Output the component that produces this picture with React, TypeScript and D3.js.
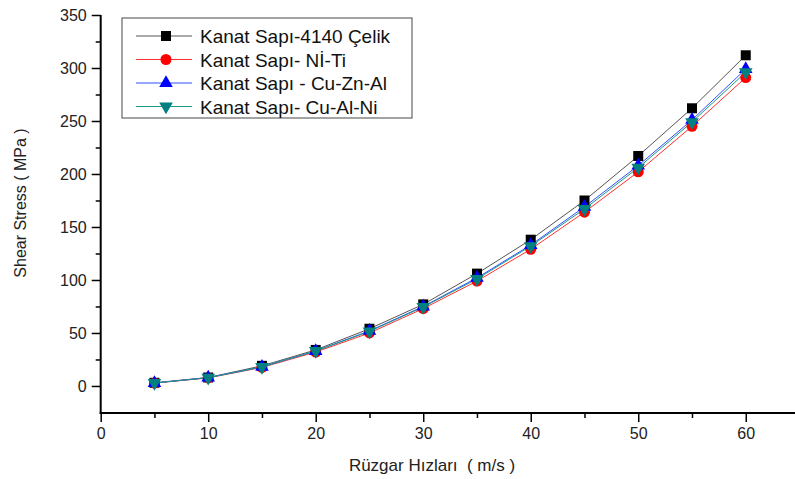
import React, { useEffect, useRef } from "react";
import {
  select,
  scaleLinear,
  axisLeft,
  axisBottom,
  line,
  symbol,
  symbolSquare,
  symbolCircle,
  symbolTriangle,
} from "d3";

const speeds = [5, 10, 15, 20, 25, 30, 35, 40, 45, 50, 55, 60];
const celik = [3, 8, 19, 34, 54, 77, 106, 138, 175, 217, 262, 312];
const niTi = [2.7, 7.6, 17.5, 32, 50, 73, 99, 129, 164, 202, 245, 291];
const cuZnAl = [2.8, 7.9, 18, 33, 52, 75, 102, 133, 169, 208, 251, 299];
const cuAlNi = [2.8, 7.8, 18, 33, 51.5, 74.5, 101, 132, 167, 206, 249, 296];

const yTicks = [0, 50, 100, 150, 200, 250, 300, 350];
const yMinorTicks = [25, 75, 125, 175, 225, 275, 325];
const xTicks = [0, 10, 20, 30, 40, 50, 60];
const xMinorTicks = [5, 15, 25, 35, 45, 55];

const series = [
  { name: "Kanat Sapı-4140 Çelik", values: celik, color: "#000000", lineColor: "#555555", shape: "square" },
  { name: "Kanat Sapı- Nİ-Ti", values: niTi, color: "#ff0000", lineColor: "#ff3030", shape: "circle" },
  { name: "Kanat Sapı - Cu-Zn-Al", values: cuZnAl, color: "#0000ff", lineColor: "#3050ff", shape: "up" },
  { name: "Kanat Sapı- Cu-Al-Ni", values: cuAlNi, color: "#008080", lineColor: "#1a9a8a", shape: "down" },
];

const FONT = "'Liberation Sans', Arial, sans-serif";

const drawMarker = (g, shape, color, x, y) => {
  if (shape === "square") {
    g.append("path").attr("d", symbol(symbolSquare, 100)()).attr("transform", `translate(${x},${y})`).attr("fill", color);
  } else if (shape === "circle") {
    g.append("path").attr("d", symbol(symbolCircle, 95)()).attr("transform", `translate(${x},${y})`).attr("fill", color);
  } else if (shape === "up") {
    g.append("path").attr("d", symbol(symbolTriangle, 80)()).attr("transform", `translate(${x},${y})`).attr("fill", color);
  } else {
    g.append("path").attr("d", symbol(symbolTriangle, 80)()).attr("transform", `translate(${x},${y}) rotate(180)`).attr("fill", color);
  }
};

const App = () => {
  const svgRef = useRef(null);

  useEffect(() => {
    const svg = select(svgRef.current);
    svg.selectAll("*").remove();

    const x = scaleLinear().domain([0, 65]).range([100.7, 799.5]);
    const y = scaleLinear().domain([-25.5, 350]).range([413, 15]);

    // y axis
    svg.append("line").attr("x1", x(0)).attr("x2", x(0)).attr("y1", y(350)).attr("y2", y(-25.5) + 1).attr("stroke", "#000").attr("stroke-width", 2);
    const yMajor = svg.append("g").attr("transform", `translate(${x(0)},0)`).call(axisLeft(y).tickValues(yTicks).tickSize(9).tickPadding(5));
    yMajor.select(".domain").remove();
    yMajor.selectAll("line").attr("stroke-width", 1.5);
    yMajor.selectAll("text").style("font", `16px ${FONT}`).attr("fill", "#222");
    const yMinor = svg.append("g").attr("transform", `translate(${x(0)},0)`).call(axisLeft(y).tickValues(yMinorTicks).tickSize(5).tickFormat(() => ""));
    yMinor.select(".domain").remove();
    yMinor.selectAll("line").attr("stroke-width", 1.5);

    // x axis
    const xb = y(-25.5);
    svg.append("line").attr("x1", x(0) - 1).attr("x2", 795).attr("y1", xb).attr("y2", xb).attr("stroke", "#000").attr("stroke-width", 2);
    const xMajor = svg.append("g").attr("transform", `translate(0,${xb})`).call(axisBottom(x).tickValues(xTicks).tickSize(9).tickPadding(6));
    xMajor.select(".domain").remove();
    xMajor.selectAll("line").attr("stroke-width", 1.5);
    xMajor.selectAll("text").style("font", `16px ${FONT}`).attr("fill", "#222");
    const xMinor = svg.append("g").attr("transform", `translate(0,${xb})`).call(axisBottom(x).tickValues(xMinorTicks).tickSize(5).tickFormat(() => ""));
    xMinor.select(".domain").remove();
    xMinor.selectAll("line").attr("stroke-width", 1.5);

    // axis titles
    svg.append("text").attr("x", 432).attr("y", 471).attr("text-anchor", "middle").style("font", `17px ${FONT}`).attr("fill", "#222").attr("xml:space", "preserve").text("Rüzgar Hızları  ( m/s )");
    svg.append("text").attr("transform", "translate(26,203) rotate(-90)").attr("text-anchor", "middle").style("font", `16px ${FONT}`).attr("fill", "#222").text("Shear Stress ( MPa )");

    // lines & markers
    const lineGen = line().x((d) => x(d[0])).y((d) => y(d[1]));
    series.forEach((s) => {
      const pts = speeds.map((v, i) => [v, s.values[i]]);
      svg.append("path").attr("d", lineGen(pts)).attr("fill", "none").attr("stroke", s.lineColor).attr("stroke-width", 1);
    });
    series.forEach((s) => {
      const g = svg.append("g");
      speeds.forEach((v, i) => drawMarker(g, s.shape, s.color, x(v), y(s.values[i])));
    });

    // legend
    const lg = svg.append("g").attr("transform", "translate(122,18)");
    lg.append("rect").attr("width", 290).attr("height", 100).attr("fill", "#fff").attr("stroke", "#666").attr("stroke-width", 1.2);
    series.forEach((s, i) => {
      const ly = 18 + i * 23.5;
      lg.append("line").attr("x1", 14).attr("x2", 70).attr("y1", ly).attr("y2", ly).attr("stroke", s.lineColor).attr("stroke-width", 1);
      drawMarker(lg, s.shape, s.color, 44, ly);
      lg.append("text").attr("x", 78).attr("y", ly + 7).style("font", `19px ${FONT}`).attr("fill", "#111").text(s.name);
    });
  }, []);

  return (
    <svg ref={svgRef} width={795} height={479} style={{ position: "absolute", left: 0, top: 0, background: "#fff" }} />
  );
};

export default App;
